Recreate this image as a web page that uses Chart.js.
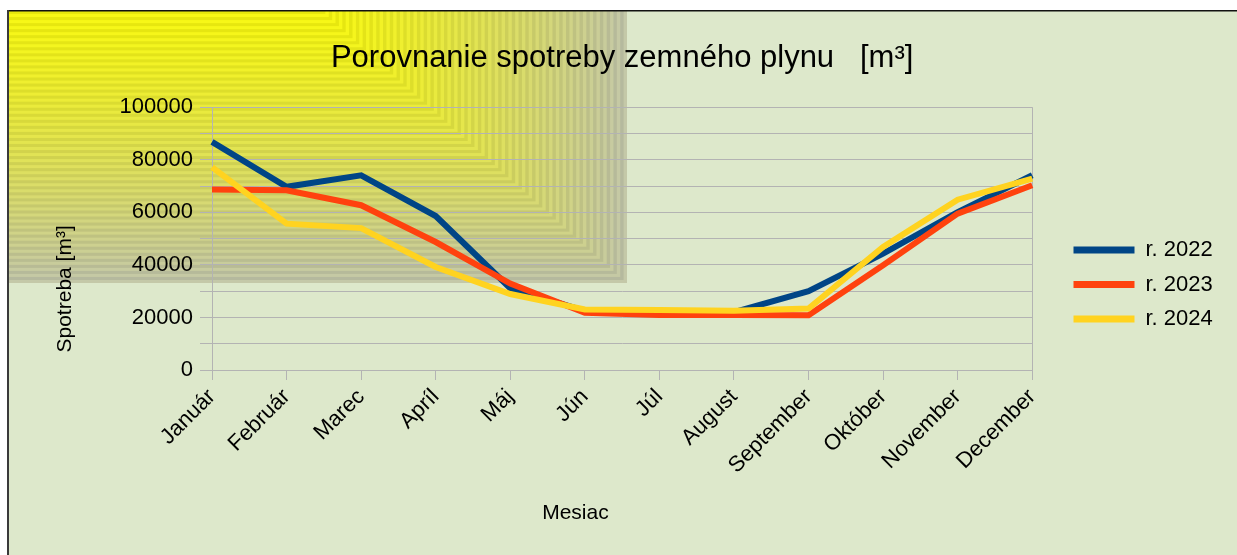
<!DOCTYPE html>
<html>
<head>
<meta charset="utf-8">
<script src="https://cdn.jsdelivr.net/npm/chart.js@4.4.1/dist/chart.umd.min.js"></script>
<style>
html,body{margin:0;padding:0;background:#fff;overflow:hidden}
#wrap{width:1237px;height:555px;position:relative}
</style>
</head>
<body>
<div id="wrap"><canvas id="c" width="1237" height="555"></canvas></div>
<script>
// ---- data ----
const months = ['Január','Február','Marec','Apríl','Máj','Jún','Júl','August','September','Október','November','December'];
const series2022 = [86800, 69700, 74100, 58600, 31100, 22500, 21800, 22000, 30000, 44300, 60100, 74100];
const series2023 = [68700, 68400, 62700, 48700, 32900, 21800, 20900, 20900, 20800, 39900, 59500, 70300];
const series2024 = [77200, 55700, 54000, 39200, 28900, 23000, 22800, 22500, 23400, 46800, 64800, 72800];
const seriesNames = ['r. 2022', 'r. 2023', 'r. 2024'];
const yMin = 0, yMax = 100000, yStep = 10000, yLabelEvery = 20000;
const chartTitle = 'Porovnanie spotreby zemného plynu   [m³]';
const xTitle = 'Mesiac';
const yTitle = 'Spotreba [m³]';

const FONT = "'Liberation Sans', Arial, Helvetica, sans-serif";
Chart.defaults.font.family = FONT;
Chart.defaults.color = '#000';

const bgPlugin = {
  id: 'bg',
  beforeDraw(chart) {
    const ctx = chart.ctx;
    const W = chart.width, H = chart.height;
    ctx.save();
    ctx.fillStyle = '#ffffff';
    ctx.fillRect(0, 0, W, H);
    ctx.fillStyle = '#dde8cb';
    ctx.fillRect(8, 11, W - 8, H - 11);
    // stepped rectangular gradient in the top-left corner
    const x0 = 8, y0 = 11, x1 = 627, y1 = 283, xo = 322;
    const N = 90;
    const c0 = [248, 248, 20], c1 = [196, 200, 168];
    for (let k = N; k >= 1; k--) {
      const t = k / N;
      const w = (xo + (x1 - xo) * t) - x0;
      const h = (y1 - y0) * t;
      const m = Math.pow(t, 1.3);
      let r = c0[0] + (c1[0] - c0[0]) * m;
      let g = c0[1] + (c1[1] - c0[1]) * m;
      let b = c0[2] + (c1[2] - c0[2]) * m;
      if (k % 2) { r -= 16; g -= 16; b -= 8; }
      ctx.fillStyle = `rgb(${Math.round(r)},${Math.round(g)},${Math.round(b)})`;
      ctx.fillRect(x0, y0, w, h);
    }
    // frame
    ctx.fillStyle = '#111';
    ctx.fillRect(8, 10, W - 8, 1.5);
    ctx.fillStyle = '#3a3a3a';
    ctx.fillRect(7, 10, 2, H - 10);
    ctx.restore();
  }
};

const legendShift = {
  id: 'legendShift',
  afterLayout(chart) {
    const lg = chart.legend;
    if (!lg) return;
    const dx = 1061 - lg.left;
    lg.left += dx;
    lg.right += dx;
  }
};

const colors = ['#004586', '#ff420e', '#ffd320'];
const allSeries = [series2022, series2023, series2024];
const drawOrder = [3, 2, 1];

const datasets = allSeries.map((vals, i) => ({
  label: seriesNames[i],
  data: vals,
  borderColor: colors[i],
  backgroundColor: colors[i],
  borderWidth: 6,
  pointRadius: 0,
  pointHoverRadius: 0,
  tension: 0,
  borderJoinStyle: 'miter',
  borderCapStyle: 'butt',
  order: drawOrder[i]
}));

new Chart(document.getElementById('c'), {
  type: 'line',
  data: { labels: months, datasets },
  options: {
    responsive: false,
    animation: false,
    devicePixelRatio: 1,
    layout: { padding: { top: 14, left: 8, right: 43, bottom: 0 } },
    plugins: {
      tooltip: { enabled: false },
      title: {
        display: true,
        text: chartTitle,
        fullSize: false,
        color: '#000',
        font: { family: FONT, size: 31, weight: 'normal' },
        padding: { top: 26, bottom: 30 }
      },
      legend: {
        position: 'right',
        align: 'center',
        labels: {
          boxWidth: 61,
          boxHeight: 7,
          padding: 12.5,
          color: '#000',
          font: { family: FONT, size: 22 },
          sort: (a, b) => a.datasetIndex - b.datasetIndex,
          generateLabels(chart) {
            const items = Chart.defaults.plugins.legend.labels.generateLabels(chart);
            items.forEach(it => { it.lineWidth = 0; it.fillStyle = it.strokeStyle; });
            return items;
          }
        }
      }
    },
    scales: {
      x: {
        type: 'category',
        offset: false,
        grid: {
          color: c => (c.index === 0 || c.index === months.length - 1) ? '#b3b3b3' : 'rgba(0,0,0,0)',
          tickColor: '#b3b3b3',
          tickLength: 10,
          lineWidth: 1
        },
        border: { display: true, color: '#b3b3b3' },
        ticks: {
          autoSkip: false,
          minRotation: 45,
          maxRotation: 45,
          padding: 4,
          color: '#000',
          font: { family: FONT, size: 22 }
        },
        title: {
          display: true,
          text: xTitle + '                ',
          color: '#000',
          font: { family: FONT, size: 21 },
          padding: { top: 0, bottom: 29.4 }
        },
        afterFit(s) { s.height = 185; }
      },
      y: {
        min: yMin,
        max: yMax,
        grid: {
          color: '#b3b3b3',
          tickColor: '#b3b3b3',
          tickLength: 12,
          lineWidth: 1
        },
        border: { display: true, color: '#b3b3b3' },
        ticks: {
          stepSize: yStep,
          autoSkip: false,
          padding: 7,
          color: '#000',
          font: { family: FONT, size: 22 },
          callback: v => (v % yLabelEvery === 0 ? String(v) : '')
        },
        title: {
          display: true,
          text: '   ' + yTitle,
          align: 'start',
          color: '#000',
          font: { family: FONT, size: 21 },
          padding: { top: 44.4, bottom: 0 }
        },
        afterFit(s) { s.width = 204; }
      }
    }
  },
  plugins: [bgPlugin, legendShift]
});
</script>
</body>
</html>
